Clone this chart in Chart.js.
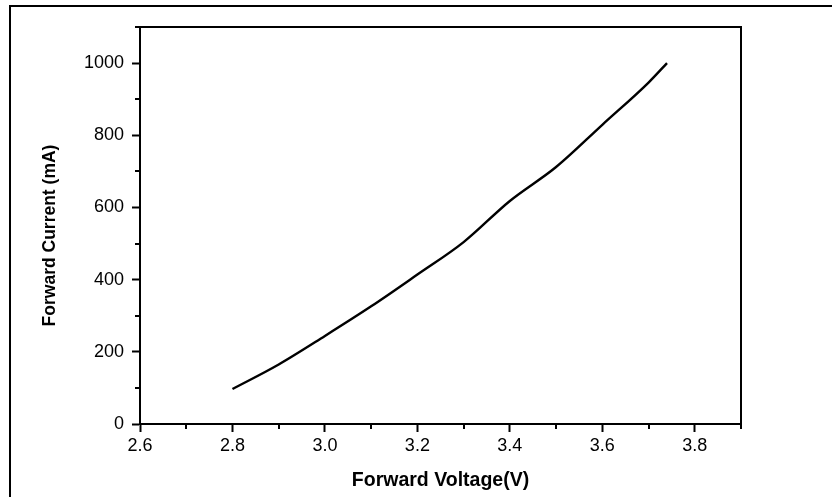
<!DOCTYPE html>
<html>
<head>
<meta charset="utf-8">
<script src="https://cdn.jsdelivr.net/npm/chart.js@4/dist/chart.umd.min.js"></script>
<style>
  html,body{margin:0;padding:0;background:#fff;}
  #wrap{width:832px;height:497px;position:relative;}
</style>
</head>
<body>
<div id="wrap"><canvas id="ivChart" width="832" height="497"></canvas></div>
<script>
// ============ data ============
const voltage = [2.80, 2.90, 3.00, 3.10, 3.20, 3.30, 3.40, 3.50, 3.60, 3.70, 3.74];
const current = [97, 165, 244, 326, 414, 504, 618, 712, 829, 946, 1000];

const xMajor = [2.6, 2.8, 3.0, 3.2, 3.4, 3.6, 3.8];
const xMinor = [2.7, 2.9, 3.1, 3.3, 3.5, 3.7, 3.9];
const yMajor = [0, 200, 400, 600, 800, 1000];
const yMinor = [100, 300, 500, 700, 900, 1100];

const xTitle = "Forward Voltage(V)";
const yTitle = "Forward Current (mA)";

const FONT = "'Liberation Sans', Arial, sans-serif";

// frame, plot box, minor ticks and y title
const decor = {
  id: "decor",
  beforeDraw(chart){
    const c = chart.ctx;
    c.save();
    c.fillStyle = "#fff";
    c.fillRect(0, 0, chart.width, chart.height);
    c.fillStyle = "#000";
    c.fillRect(9, 5, chart.width, 2);
    c.fillRect(9, 5, 2, chart.height);
    c.restore();
  },
  afterDraw(chart){
    const c = chart.ctx, a = chart.chartArea;
    const xs = chart.scales.x, ys = chart.scales.y;
    c.save();
    c.strokeStyle = "#000";
    c.lineWidth = 2;
    c.strokeRect(a.left, a.top, a.right - a.left, a.bottom - a.top);
    c.beginPath();
    xMinor.forEach(v => {
      const px = Math.round(xs.getPixelForValue(v));
      c.moveTo(px, a.bottom); c.lineTo(px, a.bottom + 5);
    });
    yMinor.forEach(v => {
      const py = Math.round(ys.getPixelForValue(v));
      c.moveTo(a.left, py); c.lineTo(a.left - 5, py);
    });
    c.stroke();
    // y title
    c.translate(50, (a.top + a.bottom) / 2 + 10);
    c.rotate(-Math.PI / 2);
    c.font = "bold 17.5px " + FONT;
    c.fillStyle = "#000";
    c.textAlign = "center";
    c.textBaseline = "middle";
    c.fillText(yTitle, 0, 0);
    c.restore();
  }
};

new Chart(document.getElementById("ivChart"), {
  type: "line",
  data: {
    datasets: [{
      data: voltage.map((v, i) => ({x: v, y: current[i]})),
      borderColor: "#000",
      borderWidth: 2.4,
      pointRadius: 0,
      fill: false,
      cubicInterpolationMode: "monotone"
    }]
  },
  options: {
    responsive: false,
    animation: false,
    layout: {padding: {left: 0, top: 27, right: 91, bottom: 0}},
    plugins: {legend: {display: false}, tooltip: {enabled: false}},
    scales: {
      x: {
        type: "linear",
        min: 2.6, max: 3.9,
        afterBuildTicks: s => { s.ticks = xMajor.map(v => ({value: v})); },
        afterFit: s => { s.height = 73; },
        grid: {drawOnChartArea: false, drawTicks: true, tickLength: 8, tickWidth: 2, tickColor: "#000"},
        border: {display: true, color: "#000", width: 2},
        ticks: {
          color: "#000", padding: 3, maxRotation: 0,
          font: {family: FONT, size: 18},
          callback: v => Number(v).toFixed(1)
        },
        title: {
          display: true, text: xTitle, color: "#000",
          font: {family: FONT, size: 19.5, weight: "bold"},
          padding: {top: 0, bottom: 5}
        }
      },
      y: {
        type: "linear",
        min: 0, max: 1100,
        afterBuildTicks: s => { s.ticks = yMajor.map(v => ({value: v})); },
        afterFit: s => { s.width = 140; },
        grid: {drawOnChartArea: false, drawTicks: true, tickLength: 8, tickWidth: 2, tickColor: "#000"},
        border: {display: true, color: "#000", width: 2},
        ticks: {
          color: "#000", padding: 8,
          font: {family: FONT, size: 18},
          callback: v => String(v)
        },
        title: {display: false}
      }
    }
  },
  plugins: [decor]
});
</script>
</body>
</html>
